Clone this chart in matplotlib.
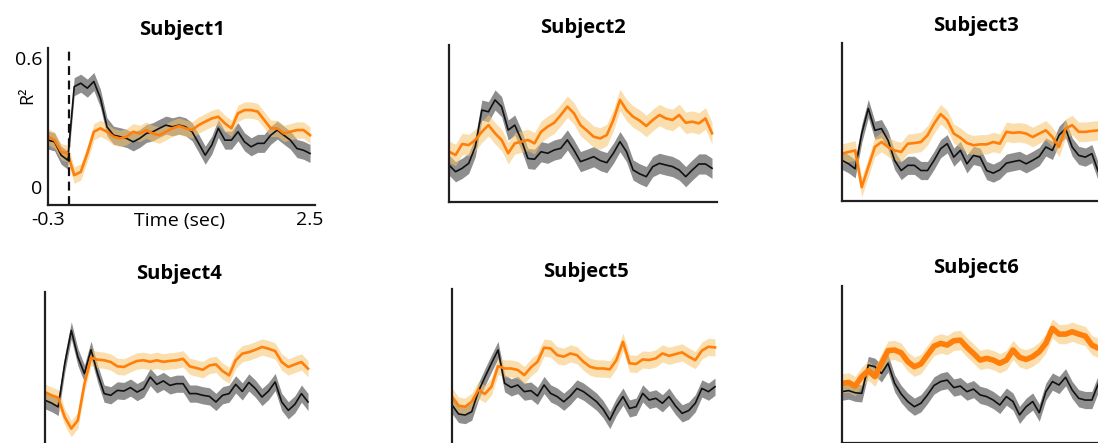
import numpy as np
import matplotlib
matplotlib.use("Agg")
import matplotlib.pyplot as plt

plt.rcParams['font.family'] = ['Open Sans', 'DejaVu Sans']

# time axis (seconds)
t_start, t_end, n_pts = -0.3, 2.5, 41
onset = -0.08

titles = ["Subject1", "Subject2", "Subject3", "Subject4", "Subject5", "Subject6"]

black_s1 = [0.218, 0.210, 0.148, 0.125, 0.467, 0.483, 0.460, 0.491, 0.413, 0.280,
            0.241, 0.234, 0.226, 0.210, 0.226, 0.249, 0.257, 0.273, 0.288, 0.280,
            0.288, 0.280, 0.257, 0.203, 0.148, 0.195, 0.273, 0.218, 0.218, 0.257,
            0.210, 0.187, 0.203, 0.203, 0.241, 0.265, 0.241, 0.218, 0.179, 0.171, 0.156]
orange_s1 = [0.234, 0.218, 0.164, 0.156, 0.055, 0.070, 0.156, 0.257, 0.273, 0.257,
             0.234, 0.226, 0.234, 0.257, 0.249, 0.265, 0.249, 0.241, 0.257, 0.273,
             0.284, 0.273, 0.265, 0.288, 0.304, 0.319, 0.327, 0.296, 0.273, 0.343,
             0.358, 0.358, 0.351, 0.312, 0.273, 0.273, 0.249, 0.257, 0.265, 0.265, 0.241]

black_s2 = [0.088, 0.057, 0.073, 0.096, 0.174, 0.344, 0.336, 0.391, 0.360, 0.251,
            0.274, 0.205, 0.119, 0.115, 0.150, 0.143, 0.158, 0.166, 0.205, 0.158,
            0.104, 0.115, 0.127, 0.109, 0.099, 0.143, 0.197, 0.150, 0.065, 0.047,
            0.034, 0.081, 0.096, 0.088, 0.081, 0.065, 0.034, 0.065, 0.093, 0.093, 0.073]
orange_s2 = [0.150, 0.135, 0.186, 0.181, 0.205, 0.243, 0.274, 0.236, 0.205, 0.143,
             0.189, 0.197, 0.205, 0.189, 0.243, 0.267, 0.285, 0.321, 0.360, 0.329,
             0.274, 0.248, 0.220, 0.212, 0.228, 0.298, 0.391, 0.344, 0.313, 0.295,
             0.270, 0.298, 0.321, 0.305, 0.298, 0.321, 0.285, 0.290, 0.282, 0.305, 0.236]

black_s3 = [0.104, 0.088, 0.065, 0.228, 0.344, 0.243, 0.251, 0.197, 0.104, 0.057,
            0.081, 0.081, 0.057, 0.057, 0.104, 0.158, 0.181, 0.119, 0.150, 0.088,
            0.127, 0.119, 0.057, 0.045, 0.060, 0.091, 0.098, 0.104, 0.088, 0.104,
            0.122, 0.166, 0.150, 0.220, 0.251, 0.166, 0.127, 0.119, 0.135, 0.050, 0.073]
orange_s3 = [0.135, 0.143, 0.150, -0.020, 0.073, 0.166, 0.189, 0.166, 0.150, 0.143,
             0.181, 0.184, 0.189, 0.220, 0.274, 0.318, 0.290, 0.228, 0.209, 0.184,
             0.174, 0.178, 0.178, 0.189, 0.181, 0.236, 0.231, 0.234, 0.228, 0.212,
             0.228, 0.243, 0.212, 0.166, 0.251, 0.267, 0.236, 0.236, 0.240, 0.243, 0.243]

black_s4 = [0.143, 0.130, 0.112, 0.313, 0.468, 0.344, 0.267, 0.378, 0.267, 0.174,
            0.166, 0.189, 0.186, 0.202, 0.181, 0.197, 0.251, 0.217, 0.233, 0.212,
            0.220, 0.220, 0.174, 0.174, 0.166, 0.161, 0.135, 0.166, 0.174, 0.217,
            0.184, 0.226, 0.197, 0.158, 0.186, 0.228, 0.135, 0.096, 0.124, 0.174, 0.135]
orange_s4 = [0.181, 0.166, 0.155, 0.065, 0.011, 0.050, 0.220, 0.341, 0.332, 0.329,
             0.321, 0.301, 0.298, 0.313, 0.326, 0.329, 0.322, 0.329, 0.322, 0.326,
             0.329, 0.336, 0.301, 0.293, 0.285, 0.305, 0.310, 0.279, 0.259, 0.329,
             0.360, 0.367, 0.378, 0.391, 0.383, 0.372, 0.321, 0.298, 0.310, 0.321, 0.290]

black_s5 = [0.107, 0.065, 0.060, 0.076, 0.169, 0.236, 0.301, 0.363, 0.208, 0.189,
            0.200, 0.169, 0.174, 0.149, 0.200, 0.161, 0.146, 0.122, 0.149, 0.184,
            0.169, 0.146, 0.122, 0.087, 0.037, 0.099, 0.146, 0.091, 0.099, 0.161,
            0.130, 0.138, 0.115, 0.146, 0.102, 0.068, 0.081, 0.115, 0.184, 0.169, 0.192]
orange_s5 = [0.146, 0.104, 0.099, 0.122, 0.177, 0.158, 0.192, 0.288, 0.277, 0.277,
             0.270, 0.246, 0.282, 0.308, 0.374, 0.370, 0.339, 0.332, 0.347, 0.339,
             0.308, 0.285, 0.277, 0.277, 0.273, 0.316, 0.401, 0.301, 0.298, 0.319,
             0.316, 0.324, 0.347, 0.336, 0.344, 0.352, 0.332, 0.316, 0.360, 0.378, 0.375]

black_s6 = [0.155, 0.160, 0.150, 0.147, 0.279, 0.271, 0.240, 0.287, 0.194, 0.144,
            0.109, 0.085, 0.101, 0.140, 0.184, 0.202, 0.209, 0.174, 0.181, 0.155,
            0.167, 0.140, 0.132, 0.116, 0.093, 0.132, 0.109, 0.047, 0.085, 0.109,
            0.057, 0.155, 0.202, 0.186, 0.222, 0.163, 0.124, 0.116, 0.116, 0.194, 0.209]
orange_s6 = [0.194, 0.198, 0.181, 0.225, 0.253, 0.225, 0.287, 0.346, 0.349, 0.336,
             0.295, 0.271, 0.284, 0.326, 0.367, 0.380, 0.372, 0.392, 0.395, 0.361,
             0.333, 0.302, 0.310, 0.302, 0.287, 0.302, 0.349, 0.315, 0.305, 0.318,
             0.341, 0.380, 0.450, 0.423, 0.423, 0.434, 0.423, 0.414, 0.372, 0.357, 0.357]

black_means = [black_s1, black_s2, black_s3, black_s4, black_s5, black_s6]
orange_means = [orange_s1, orange_s2, orange_s3, orange_s4, orange_s5, orange_s6]
black_err = [0.042, 0.047, 0.042, 0.040, 0.040, 0.040]
orange_err = [0.038, 0.050, 0.045, 0.038, 0.040, 0.045]

y_tick_vals = [0, 0.6]
y_tick_labels = ["0", "0.6"]
x_tick_vals = [-0.3, 2.5]
x_tick_labels = ["-0.3", "2.5"]

W, H = 1098, 443
fig = plt.figure(figsize=(W / 100, H / 100), dpi=100)

# axes boxes in pixels: left, top, width, height
boxes = [(48, 48, 267, 157), (449, 45, 268, 157), (842, 43, 268, 158),
         (45, 292, 268, 157), (452, 289, 268, 157), (842, 286, 268, 157)]

t = np.linspace(t_start, t_end, n_pts)
spine_col = "#231f20"
for k, (l, tp, w, h) in enumerate(boxes):
    ax = fig.add_axes([l / W, (H - tp - h) / H, w / W, h / H])
    bm = np.array(black_means[k])
    om = np.array(orange_means[k])
    ax.fill_between(t, bm - black_err[k], bm + black_err[k], color="#7a7a7a",
                    alpha=0.85, linewidth=0)
    ax.plot(t, bm, color="#111111", lw=1.2, solid_joinstyle="round")
    ax.fill_between(t, om - orange_err[k], om + orange_err[k], color="#f7c46c",
                    alpha=0.55, linewidth=0)
    ax.plot(t, om, color="#ff7f0a", lw=4.0 if k == 5 else 1.9,
            solid_joinstyle="round")
    ax.set_xlim(-0.3, 2.553)
    ax.set_ylim(-0.084, 0.647)
    for s in ("top", "right"):
        ax.spines[s].set_visible(False)
    for s in ("left", "bottom"):
        ax.spines[s].set_color(spine_col)
        ax.spines[s].set_linewidth(1.6)
    ax.set_title(titles[k], fontsize=14.5, fontweight="bold", pad=9)
    if k == 0:
        ax.axvline(onset, color="#111111", lw=1.6, ls=(0, (4, 2.5)))
        ax.set_yticks(y_tick_vals)
        ax.set_yticklabels(y_tick_labels, fontsize=14)
        ax.set_xticks(x_tick_vals)
        ax.set_xticklabels(x_tick_labels, fontsize=14)
        ax.tick_params(length=0, pad=4)
        ax.text(0.494, -0.10, "Time (sec)", transform=ax.transAxes,
                ha="center", va="center", fontsize=14)
        ax.text(-0.078, 0.70, "R²", transform=ax.transAxes, rotation=90,
                ha="center", va="center", fontsize=13)
    else:
        ax.set_xticks([])
        ax.set_yticks([])

fig.savefig("out.png", dpi=100)
